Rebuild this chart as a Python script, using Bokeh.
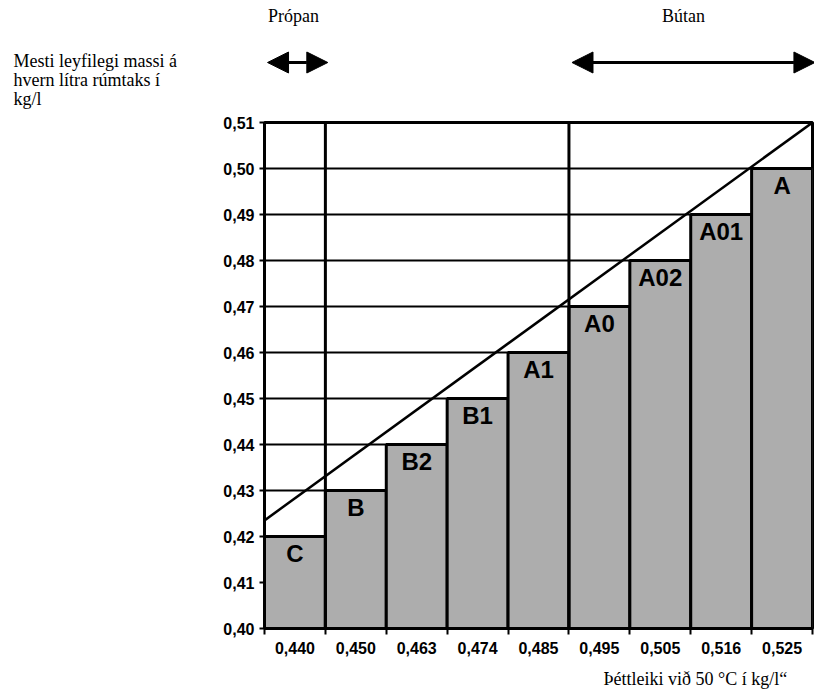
from bokeh.plotting import figure
from bokeh.layouts import column
from bokeh.models import Range1d, FixedTicker, Label, Arrow, NormalHead, Span, ColumnDataSource
from bokeh.embed import file_html
from bokeh.resources import INLINE
from bokeh.core.properties import value

# ---- data ----
density_labels = ["0,440", "0,450", "0,463", "0,474", "0,485", "0,495", "0,505", "0,516", "0,525"]
max_mass = [0.42, 0.43, 0.44, 0.45, 0.46, 0.47, 0.48, 0.49, 0.50]
classes = ["C", "B", "B2", "B1", "A1", "A0", "A02", "A01", "A"]
y_ticks = [0.40, 0.41, 0.42, 0.43, 0.44, 0.45, 0.46, 0.47, 0.48, 0.49, 0.50, 0.51]
y_tick_labels = ["0,40", "0,41", "0,42", "0,43", "0,44", "0,45", "0,46", "0,47", "0,48", "0,49", "0,50", "0,51"]
limit_line = [0.4235, 0.51]          # max allowed mass line, left edge -> right edge
propan_range = [0, 1]                # category boundaries covered by propane
butan_range = [5, 9]                 # category boundaries covered by butane

n = len(density_labels)
Y0, Y1 = y_ticks[0], y_ticks[-1]

# ---- layout (page pixels) ----
W = 814
TOP_H = 113
MAIN_H = 555
BOT_H = 25
FRAME_L, FRAME_R = 264, 812
FRAME_T, FRAME_B = 122, 628


def dx(px):
    return (px - FRAME_L) / (FRAME_R - FRAME_L) * n


SERIF = dict(text_font="Liberation Serif", text_font_size="18px", text_color="black")


def blank_fig(h, y0):
    f = figure(width=W, height=h, x_range=Range1d(dx(0), dx(W)), y_range=Range1d(y0 + h, y0),
               x_axis_type=None, y_axis_type=None, title=None,
               output_backend="svg", toolbar_location=None,
               min_border=0, min_border_left=0, min_border_right=0, min_border_top=0, min_border_bottom=0)
    f.frame_align = False
    f.outline_line_color = None
    f.background_fill_color = "white"
    f.border_fill_color = "white"
    f.grid.grid_line_color = None
    return f


# ---- top strip: substance labels, arrows, y title ----
top = blank_fig(TOP_H, 0)
for (a, b) in (propan_range, butan_range):
    top.add_layout(Arrow(x_start=a + 0.05, y_start=62, x_end=b + 0.04, y_end=62,
                         line_color="black", line_width=3,
                         start=NormalHead(size=21, fill_color="black", line_color="black"),
                         end=NormalHead(size=21, fill_color="black", line_color="black")))
top.add_layout(Label(x=dx(293), y=25, text="Própan", text_align="center", **SERIF))
top.add_layout(Label(x=dx(683), y=25, text="Bútan", text_align="center", **SERIF))
for txt, py in (("Mesti leyfilegi massi á", 70), ("hvern lítra rúmtaks í", 89), ("kg/l", 108)):
    top.add_layout(Label(x=dx(13), y=py, text=txt, text_align="left", **SERIF))

# ---- main chart ----
p = figure(width=W, height=MAIN_H, x_range=Range1d(0, n), y_range=Range1d(Y0, Y1),
           output_backend="svg", toolbar_location=None, title=None,
           min_border_left=FRAME_L, min_border_right=W - FRAME_R,
           min_border_top=FRAME_T - TOP_H, min_border_bottom=TOP_H + MAIN_H - FRAME_B)
p.frame_align = False
p.background_fill_color = "white"
p.border_fill_color = "white"
p.outline_line_color = "black"
p.outline_line_width = 3

centers = [i + 0.5 for i in range(n)]

xt = FixedTicker(ticks=centers, minor_ticks=list(range(n + 1)))
p.xaxis.ticker = xt
p.xaxis.major_label_overrides = {c: lab for c, lab in zip(centers, density_labels)}
p.xaxis.major_tick_line_color = None
p.xaxis.minor_tick_line_color = "black"
p.xaxis.minor_tick_line_width = 2
p.xaxis.minor_tick_out = 6
p.xaxis.minor_tick_in = 0
p.xaxis.major_label_standoff = 7

yt = FixedTicker(ticks=y_ticks)
p.yaxis.ticker = yt
p.yaxis.major_label_overrides = {t: lab for t, lab in zip(y_ticks, y_tick_labels)}
p.yaxis.major_tick_line_color = "black"
p.yaxis.major_tick_line_width = 2
p.yaxis.major_tick_out = 5
p.yaxis.major_tick_in = 0
p.yaxis.minor_tick_line_color = None
p.yaxis.major_label_standoff = 5

for ax in (p.xaxis, p.yaxis):
    ax.axis_line_color = "black"
    ax.axis_line_width = 3
    ax.major_label_text_font = "Liberation Sans"
    ax.major_label_text_font_style = "bold"
    ax.major_label_text_font_size = "16px"
    ax.major_label_text_color = "black"

p.xgrid.grid_line_color = None
p.ygrid.ticker = yt
p.ygrid.grid_line_color = "black"
p.ygrid.grid_line_width = 2

src = ColumnDataSource(dict(x=centers, top=max_mass, cls=classes))
p.vbar(x="x", top="top", bottom=Y0, width=1, source=src,
       fill_color="#adadad", line_color="black", line_width=3)

p.add_layout(Span(location=propan_range[1], dimension="height", line_color="black", line_width=3))
p.add_layout(Span(location=butan_range[0], dimension="height", line_color="black", line_width=3))

p.line(x=[0, n], y=limit_line, line_color="black", line_width=2.5)

p.text(x="x", y="top", text="cls", source=src,
       text_font=value("Liberation Sans"), text_font_style="bold", text_font_size="24px",
       text_align="center", text_baseline="middle", y_offset=17, text_color="black")

# ---- bottom strip: x title ----
bot = blank_fig(BOT_H, TOP_H + MAIN_H)
bot.add_layout(Label(x=dx(603), y=688, text="Þéttleiki við 50 °C í kg/l“", text_align="left", **SERIF))

layout = column(top, p, bot, spacing=0)
open("out.html", "w").write(file_html(layout, INLINE))
